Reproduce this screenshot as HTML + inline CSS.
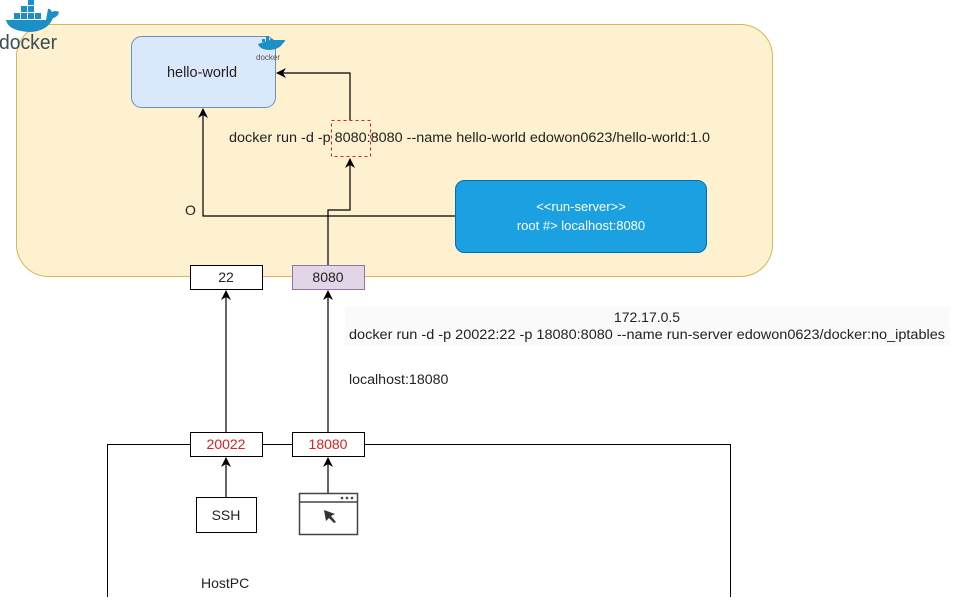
<!DOCTYPE html>
<html><head><meta charset="utf-8"><style>
html,body{margin:0;padding:0;background:#fff;}
svg text{font-family:"Liberation Sans",sans-serif;}
</style></head><body>
<svg width="964" height="597" viewBox="0 0 964 597" xmlns="http://www.w3.org/2000/svg">
<defs>
<marker id="a" markerWidth="10" markerHeight="10" refX="9" refY="5" orient="auto" markerUnits="userSpaceOnUse">
<path d="M0,0 L10,5 L0,10 L3,5 Z" fill="#000"/></marker>
</defs>
<rect x="16.5" y="24.5" width="756" height="252" rx="32" fill="#fdf1cf" stroke="#d6b656"/>
<g fill="#1d8fc7">
<path d="M6,20 Q8,31 30,32 Q48,31 53,18 Q58,17 59,12 Q55,10 52,12 Q50,8 48,9 L46,20 Z"/>
<rect x="14" y="13" width="6" height="6"/><rect x="21" y="13" width="6" height="6"/><rect x="28" y="13" width="6" height="6"/><rect x="35" y="13" width="6" height="6"/>
<rect x="21" y="6" width="6" height="6"/><rect x="28" y="6" width="6" height="6"/><rect x="28" y="0" width="6" height="5"/>
</g>
<text x="-1" y="49" font-size="20" fill="#394d54" textLength="58" lengthAdjust="spacingAndGlyphs">docker</text>
<rect x="131.5" y="36.5" width="144" height="71" rx="10" fill="#dae8fc" stroke="#6c8ebf"/>
<text x="202" y="77" font-size="14.5" text-anchor="middle" fill="#222">hello-world</text>
<g fill="#1d8fc7"><path d="M258,44 Q260,50 270,50 Q280,49 283,43 Q285,42 285,40 L270,40 Z"/><rect x="262" y="39" width="3" height="3"/><rect x="266" y="39" width="3" height="3"/><rect x="270" y="39" width="3" height="3"/><rect x="266" y="36" width="3" height="3"/></g>
<text x="256" y="60" font-size="8" fill="#555">docker</text>
<polyline points="328,265 328,210 350,210 350,159" fill="none" stroke="#000" stroke-width="1.2" marker-end="url(#a)"/>
<polyline points="350,120 350,73 277,73" fill="none" stroke="#000" stroke-width="1.2" marker-end="url(#a)"/>
<polyline points="455,216 203,216 203,109" fill="none" stroke="#000" stroke-width="1.2" marker-end="url(#a)"/>
<text x="229" y="142" font-size="14.2" fill="#222" textLength="481" lengthAdjust="spacingAndGlyphs">docker run -d -p 8080:8080 --name hello-world edowon0623/hello-world:1.0</text>
<rect x="331.5" y="120.5" width="39" height="36" fill="none" stroke="#e02020" stroke-dasharray="3,3"/>
<text x="185" y="215" font-size="14" fill="#222">O</text>
<rect x="455.5" y="180.5" width="251" height="72" rx="9" fill="#1ba1e2" stroke="#006eaf"/>
<text x="581" y="211" font-size="13" text-anchor="middle" fill="#fff">&lt;&lt;run-server&gt;&gt;</text>
<text x="581" y="230" font-size="13" text-anchor="middle" fill="#fff">root #&gt; localhost:8080</text>
<rect x="190.5" y="265.5" width="72" height="24" fill="#fff" stroke="#000"/>
<text x="226" y="282" font-size="14" text-anchor="middle" fill="#222">22</text>
<rect x="292.5" y="265.5" width="72" height="24" fill="#e1d5e7" stroke="#9673a6"/>
<text x="328" y="282" font-size="14" text-anchor="middle" fill="#222">8080</text>
<rect x="345" y="307" width="605" height="38" fill="#fafafa"/>
<text x="647" y="322" font-size="14" text-anchor="middle" fill="#222">172.17.0.5</text>
<text x="349" y="339" font-size="14.2" fill="#222" textLength="596" lengthAdjust="spacingAndGlyphs">docker run -d -p 20022:22 -p 18080:8080 --name run-server  edowon0623/docker:no_iptables</text>
<text x="349" y="384" font-size="14.2" fill="#222">localhost:18080</text>
<line x1="226" y1="432" x2="226" y2="291" stroke="#000" stroke-width="1.2" marker-end="url(#a)"/>
<line x1="328" y1="432" x2="328" y2="291" stroke="#000" stroke-width="1.2" marker-end="url(#a)"/>
<polyline points="107.5,597 107.5,444.5 730.5,444.5 730.5,597" fill="none" stroke="#000"/>
<rect x="190.5" y="432.5" width="72" height="24" fill="#fff" stroke="#000"/>
<text x="226" y="449" font-size="14" text-anchor="middle" fill="#e02020">20022</text>
<rect x="292.5" y="432.5" width="72" height="24" fill="#fff" stroke="#000"/>
<text x="328" y="449" font-size="14" text-anchor="middle" fill="#e02020">18080</text>
<line x1="226" y1="497" x2="226" y2="458" stroke="#000" stroke-width="1.2" marker-end="url(#a)"/>
<line x1="328" y1="493" x2="328" y2="458" stroke="#000" stroke-width="1.2" marker-end="url(#a)"/>
<rect x="196.5" y="497.5" width="60" height="35" fill="#fff" stroke="#000"/>
<text x="226" y="520" font-size="14" text-anchor="middle" fill="#222">SSH</text>
<rect x="299.5" y="493.5" width="58" height="41" fill="#fff" stroke="#444" stroke-width="1.5"/>
<line x1="299" y1="502" x2="358" y2="502" stroke="#444" stroke-width="1.5"/>
<circle cx="342" cy="498" r="1.3" fill="#444"/><circle cx="347" cy="498" r="1.3" fill="#444"/><circle cx="352" cy="498" r="1.3" fill="#444"/>
<path d="M324,510 L335,514 L331,516 L336,522 L334,523 L329,518 L326,521 Z" fill="#333"/>
<text x="201" y="588" font-size="14" fill="#222">HostPC</text>
</svg>
</body></html>
